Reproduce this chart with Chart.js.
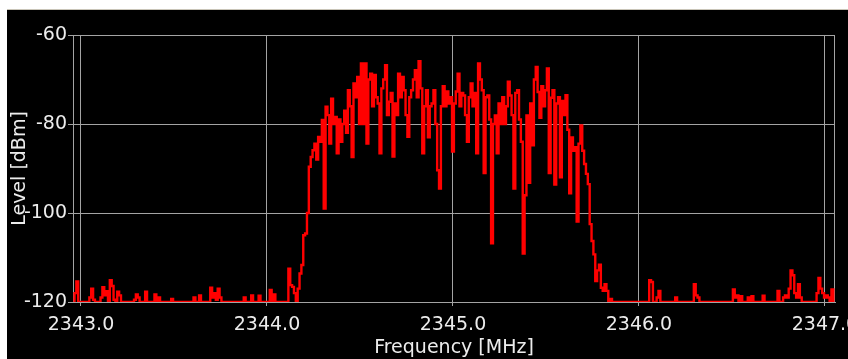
<!DOCTYPE html>
<html>
<head>
<meta charset="utf-8">
<script src="https://cdn.jsdelivr.net/npm/chart.js"></script>
<style>
  html, body { margin: 0; padding: 0; background: #fff; overflow: hidden; }
  #frame { position: absolute; left: 7px; top: 9px; width: 860px; height: 350px;
           background: #000; border-top: 1px solid #c9c5b8; box-sizing: border-box; }
  #box { position: relative; width: 860px; height: 349px; }
</style>
</head>
<body>
<div id="frame"><div id="box"><canvas id="spectrum"></canvas></div></div>

<script>
  // sweep grid: 2342.96 MHz, one sample every 10 kHz
  const freqStart = 2342.96;
  const freqStep = 0.01;

  // noise floor below the band (2342.96 .. 2344.19)
  const levelsBelow = [
    -120, -118, -115.4, -120, -120, -120, -120, -120, -120, -119,
    -117, -119.5, -120, -120, -120, -119, -116.7, -118.5, -117.6, -120,
    -115.1, -116.4, -119.5, -120, -117.7, -118.5, -120, -120, -120, -120,
    -120, -120, -120, -119.5, -118.3, -119, -120, -120, -120, -117.7,
    -120, -120, -120, -120, -118.3, -120, -119, -120, -120, -120,
    -120, -120, -120, -119.3, -120, -120, -120, -120, -120, -120,
    -120, -120, -120, -120, -120, -119, -120, -120, -118.5, -120,
    -120, -120, -120, -120, -116.8, -119, -118, -119.5, -117, -119,
    -120, -120, -120, -120, -120, -120, -120, -120, -120, -120,
    -120, -120, -119, -120, -120, -120, -118.5, -120, -120, -120,
    -118.6, -120, -120, -120, -120, -120, -117.3, -120, -118.3, -120,
    -120, -120, -120, -120, -120, -120, -112.5, -116.2, -116.6, -118,
    -120, -117, -113.6, -111.7
  ];

  // occupied band (2344.20 .. 2345.83)
  const levelsBand = [
    -105, -104.6, -100, -89.6, -87.4, -85.9, -84.4, -88, -82.9, -84,
    -79.1, -99, -76.1, -78, -84.4, -74.3, -80, -78.4, -86.6, -79,
    -84, -80, -77, -82, -72.4, -76, -87.4, -70.9, -74, -69.4,
    -80, -66.4, -80, -66.4, -84.4, -70, -68.7, -76, -69, -74,
    -75.4, -86.6, -72, -70, -66.8, -78, -75, -73, -87.3, -75.4,
    -78, -68.7, -74, -69.4, -72.4, -78, -82.9, -74, -72.4, -70,
    -67.9, -74, -65.9, -72, -86.6, -76, -72.4, -83, -76, -75.4,
    -72.4, -80, -90.4, -94.5, -76, -71.5, -76, -72.7, -75.4, -74,
    -86.2, -75.4, -72.7, -68.7, -76, -73, -73.6, -78, -84, -74,
    -70.9, -76, -73, -86.6, -66.4, -70, -72.4, -91, -74, -73.6,
    -79, -106.8, -80, -78.1, -86.6, -75.4, -80, -74, -80, -76,
    -70.5, -73.6, -78, -94.5, -73, -72.4, -79, -84, -109.1, -96,
    -78.1, -93.2, -75.4, -84.8, -70, -67.2, -72.8, -78.6, -71.5, -76,
    -72.4, -67.5, -91, -74.1, -72.4, -93.6, -75.4, -74, -92, -74.8,
    -78, -73.5, -81.3, -95.6, -83, -86, -85.2, -101.9, -84.4, -80.3,
    -86, -89, -91.2, -93.5, -102.5, -106.3, -109.3, -115.3, -112.9, -111.6,
    -116.8, -117.5, -116, -117.5
  ];

  // noise floor above the band (2345.84 .. 2347.05)
  const levelsAbove = [
    -120, -119.3, -120, -120, -120, -120, -120, -120, -120, -120,
    -120, -120, -120, -120, -120, -120, -120, -120, -120, -120,
    -120, -120, -115.1, -115.5, -120, -120, -119, -117.5, -120, -120,
    -120, -120, -120, -120, -120, -120, -119, -120, -120, -120,
    -120, -120, -120, -120, -120, -120, -116, -118.5, -119, -120,
    -120, -120, -120, -120, -120, -120, -120, -120, -120, -120,
    -120, -120, -120, -120, -120, -120, -120, -117.2, -119, -118.5,
    -120, -118.7, -120, -120, -120, -119, -120, -118.7, -120, -120,
    -120, -120, -120, -118.6, -120, -120, -120, -120, -120, -120,
    -120, -117.5, -120, -120, -119, -118.5, -119, -117, -112.9, -114,
    -118, -119, -116, -119, -120, -120, -120, -120, -120, -120,
    -120, -120, -118, -114.6, -117, -118, -119, -118.5, -119, -120,
    -117.2, -120
  ];

  const xTicks = [2343, 2344, 2345, 2346, 2347];
  const yTicks = [-120, -100, -80, -60];

  const levelDbm = levelsBelow.concat(levelsBand, levelsAbove);
  const points = levelDbm.map((v, i) => ({ x: +(freqStart + i * freqStep).toFixed(2), y: v }));

  const gridGray = '#a4a4a4';
  const textColor = '#ececec';
  const font = { family: 'DejaVu Sans', size: 19 };

  // top and right edges of the plot frame
  const framePlugin = {
    id: 'frame',
    beforeDatasetsDraw(chart) {
      const { ctx, chartArea: a } = chart;
      ctx.save();
      ctx.strokeStyle = gridGray;
      ctx.lineWidth = 1;
      ctx.beginPath();
      ctx.moveTo(Math.round(a.left) + 0.5, Math.round(a.top) + 0.5);
      ctx.lineTo(Math.round(a.right) - 0.5, Math.round(a.top) + 0.5);
      ctx.lineTo(Math.round(a.right) - 0.5, Math.round(a.bottom) + 0.5);
      ctx.stroke();
      ctx.restore();
    }
  };

  new Chart(document.getElementById('spectrum'), {
    type: 'line',
    data: {
      datasets: [{
        data: points,
        borderColor: '#ff0000',
        borderWidth: 2.4,
        stepped: 'middle',
        pointRadius: 0,
        fill: false
      }]
    },
    options: {
      responsive: true,
      maintainAspectRatio: false,
      animation: false,
      devicePixelRatio: 1,
      layout: { padding: { top: 25, right: 32, bottom: 0, left: 0 } },
      plugins: { legend: { display: false }, tooltip: { enabled: false } },
      scales: {
        x: {
          type: 'linear',
          min: 2342.957,
          max: 2347.054,
          afterBuildTicks: (s) => { s.ticks = xTicks.map(v => ({ value: v })); },
          afterFit: (s) => { s.height = 57; },
          ticks: { color: textColor, font: font, padding: 8, maxRotation: 0,
                   callback: (v) => Number(v).toFixed(1) },
          grid: { color: gridGray, lineWidth: 1, tickLength: 4, tickColor: gridGray },
          border: { display: true, color: gridGray },
          title: { display: true, text: 'Frequency [MHz]', color: textColor, font: font,
                   padding: { top: 0, bottom: 0 } }
        },
        y: {
          min: -120,
          max: -60,
          afterBuildTicks: (s) => { s.ticks = yTicks.map(v => ({ value: v })); },
          afterFit: (s) => { s.width = 66; },
          ticks: { color: textColor, font: font, padding: 1 },
          grid: { color: gridGray, lineWidth: 1, tickLength: 5, tickColor: gridGray },
          border: { display: true, color: gridGray },
          title: { display: true, text: 'Level [dBm]', color: textColor, font: font,
                   padding: { top: 2, bottom: 0 } }
        }
      }
    },
    plugins: [framePlugin]
  });
</script>
</body>
</html>
